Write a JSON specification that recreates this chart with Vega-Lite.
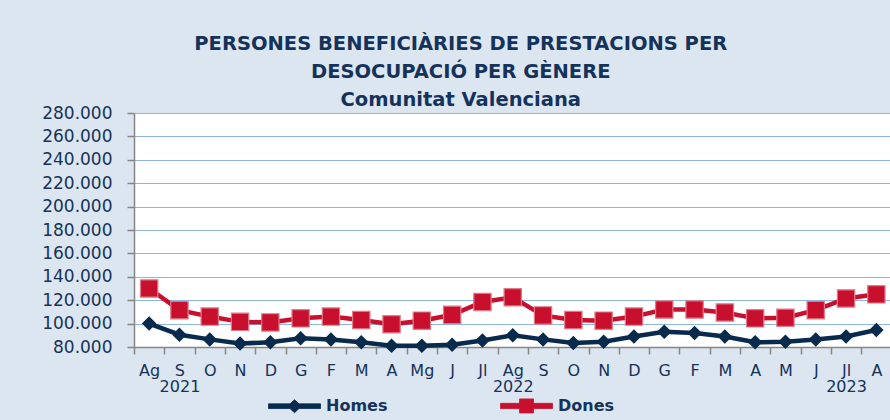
{
  "$schema": "https://vega.github.io/schema/vega-lite/v6.json",
  "autosize": {"type": "none"},
  "padding": {"left": 134, "top": 113, "right": 0, "bottom": 73},
  "width": 757.5,
  "height": 234,
  "background": "#dce6f1",
  "title": {
    "text": ["PERSONES BENEFICIÀRIES DE PRESTACIONS PER", "DESOCUPACIÓ PER GÈNERE", "Comunitat Valenciana"],
    "anchor": "middle",
    "dx": -52,
    "offset": -6,
    "font": "DejaVu Sans",
    "fontSize": 19.5,
    "fontWeight": "bold",
    "lineHeight": 28,
    "color": "#15335a"
  },
  "config": {
    "view": {"fill": "white", "stroke": null},
    "axis": {"labelFont": "DejaVu Sans", "labelColor": "#15335a", "domainColor": "#868686", "tickColor": "#868686", "tickSize": 7, "domainWidth": 1.5, "tickWidth": 1.5}
  },
  "data": {
    "values": [
      {"mes": "2021-08", "serie": "Homes", "valor": 100000},
      {"mes": "2021-09", "serie": "Homes", "valor": 90500},
      {"mes": "2021-10", "serie": "Homes", "valor": 86500},
      {"mes": "2021-11", "serie": "Homes", "valor": 83000},
      {"mes": "2021-12", "serie": "Homes", "valor": 84000},
      {"mes": "2022-01", "serie": "Homes", "valor": 87500},
      {"mes": "2022-02", "serie": "Homes", "valor": 86500},
      {"mes": "2022-03", "serie": "Homes", "valor": 84000},
      {"mes": "2022-04", "serie": "Homes", "valor": 81000},
      {"mes": "2022-05", "serie": "Homes", "valor": 81000},
      {"mes": "2022-06", "serie": "Homes", "valor": 82000},
      {"mes": "2022-07", "serie": "Homes", "valor": 85500},
      {"mes": "2022-08", "serie": "Homes", "valor": 90000},
      {"mes": "2022-09", "serie": "Homes", "valor": 86500},
      {"mes": "2022-10", "serie": "Homes", "valor": 83500},
      {"mes": "2022-11", "serie": "Homes", "valor": 84500},
      {"mes": "2022-12", "serie": "Homes", "valor": 89000},
      {"mes": "2023-01", "serie": "Homes", "valor": 93000},
      {"mes": "2023-02", "serie": "Homes", "valor": 92000},
      {"mes": "2023-03", "serie": "Homes", "valor": 89000},
      {"mes": "2023-04", "serie": "Homes", "valor": 84000},
      {"mes": "2023-05", "serie": "Homes", "valor": 84500},
      {"mes": "2023-06", "serie": "Homes", "valor": 86500},
      {"mes": "2023-07", "serie": "Homes", "valor": 89000},
      {"mes": "2023-08", "serie": "Homes", "valor": 94500},
      {"mes": "2021-08", "serie": "Dones", "valor": 130000},
      {"mes": "2021-09", "serie": "Dones", "valor": 111500},
      {"mes": "2021-10", "serie": "Dones", "valor": 106000},
      {"mes": "2021-11", "serie": "Dones", "valor": 101500},
      {"mes": "2021-12", "serie": "Dones", "valor": 101000},
      {"mes": "2022-01", "serie": "Dones", "valor": 104500},
      {"mes": "2022-02", "serie": "Dones", "valor": 106000},
      {"mes": "2022-03", "serie": "Dones", "valor": 103000},
      {"mes": "2022-04", "serie": "Dones", "valor": 99500},
      {"mes": "2022-05", "serie": "Dones", "valor": 102500},
      {"mes": "2022-06", "serie": "Dones", "valor": 107500},
      {"mes": "2022-07", "serie": "Dones", "valor": 118500},
      {"mes": "2022-08", "serie": "Dones", "valor": 122500},
      {"mes": "2022-09", "serie": "Dones", "valor": 107000},
      {"mes": "2022-10", "serie": "Dones", "valor": 103000},
      {"mes": "2022-11", "serie": "Dones", "valor": 102500},
      {"mes": "2022-12", "serie": "Dones", "valor": 106000},
      {"mes": "2023-01", "serie": "Dones", "valor": 112000},
      {"mes": "2023-02", "serie": "Dones", "valor": 112000},
      {"mes": "2023-03", "serie": "Dones", "valor": 109500},
      {"mes": "2023-04", "serie": "Dones", "valor": 104500},
      {"mes": "2023-05", "serie": "Dones", "valor": 105000},
      {"mes": "2023-06", "serie": "Dones", "valor": 111500},
      {"mes": "2023-07", "serie": "Dones", "valor": 121500},
      {"mes": "2023-08", "serie": "Dones", "valor": 125000}
    ]
  },
  "encoding": {
    "x": {
      "field": "mes",
      "type": "ordinal",
      "sort": null,
      "scale": {"type": "band", "paddingInner": 0, "paddingOuter": 0},
      "axis": {
        "title": null,
        "labelAngle": 0,
        "tickBand": "extent",
        "labelFontSize": 16,
        "labelPadding": 8,
        "labelLineHeight": 16,
        "labelOverlap": false,
        "labelBaseline": "top",
        "labelExpr": "!isString(datum.value) ? '' : datum.value == '2021-09' ? ['S', '2021'] : datum.value == '2022-08' ? ['Ag', '2022'] : datum.value == '2023-07' ? ['Jl', '2023'] : datum.value == '2023-08' ? 'A' : datum.value == '2023-05' ? 'M' : ['G','F','M','A','Mg','J','Jl','Ag','S','O','N','D'][toNumber(substring(datum.value, 5, 7)) - 1]"
      }
    },
    "y": {
      "field": "valor",
      "type": "quantitative",
      "scale": {"domain": [80000, 280000], "nice": false, "zero": false},
      "axis": {
        "title": null,
        "values": [80000, 100000, 120000, 140000, 160000, 180000, 200000, 220000, 240000, 260000, 280000],
        "labelFontSize": 17,
        "labelPadding": 15,
        "labelExpr": "replace(format(datum.value, ','), ',', '.')",
        "grid": true,
        "gridColor": "#8eb4e3",
        "gridWidth": 1.2
      }
    }
  },
  "layer": [
    {
      "mark": {"type": "line", "strokeWidth": 4.5},
      "encoding": {
        "color": {
          "field": "serie",
          "type": "nominal",
          "scale": {"domain": ["Homes", "Dones"], "range": ["#082a4d", "#c8102e"]},
          "legend": {
            "title": null,
            "orient": "none",
            "direction": "horizontal",
            "legendX": 134,
            "legendY": 266,
            "padding": 0,
            "symbolSize": 2704,
            "labelFont": "DejaVu Sans",
            "labelFontSize": 16,
            "labelFontWeight": "bold",
            "labelColor": "#15335a",
            "labelOffset": 5,
            "columnPadding": 110,
            "encode": {
              "symbols": {
                "update": {
                  "shape": {"signal": "datum.value == 'Homes' ? 'M-1,-0.09L-0.173,-0.09L0,-0.25L0.173,-0.09L1,-0.09L1,0.09L0.173,0.09L0,0.25L-0.173,0.09L-1,0.09Z' : 'M-1,-0.1L-0.27,-0.1L-0.27,-0.27L0.27,-0.27L0.27,-0.1L1,-0.1L1,0.1L0.27,0.1L0.27,0.27L-0.27,0.27L-0.27,0.1L-1,0.1Z'"},
                  "fill": {"signal": "datum.value == 'Homes' ? '#082a4d' : '#c8102e'"},
                  "stroke": {"signal": "datum.value == 'Homes' ? '#082a4d' : '#e07a88'"},
                  "strokeWidth": {"value": 0.8},
                  "fillOpacity": {"value": 1},
                  "opacity": {"value": 1}
                }
              }
            }
          }
        }
      }
    },
    {
      "transform": [{"filter": "datum.serie == 'Homes'"}],
      "mark": {"type": "point", "shape": "diamond", "filled": true, "size": 210, "color": "#082a4d", "opacity": 1},
      "encoding": {}
    },
    {
      "transform": [{"filter": "datum.serie == 'Dones'"}],
      "mark": {"type": "point", "shape": "square", "filled": true, "size": 300, "fill": "#c8102e", "stroke": "#e07a88", "strokeWidth": 1.2, "opacity": 1},
      "encoding": {}
    }
  ]
}
